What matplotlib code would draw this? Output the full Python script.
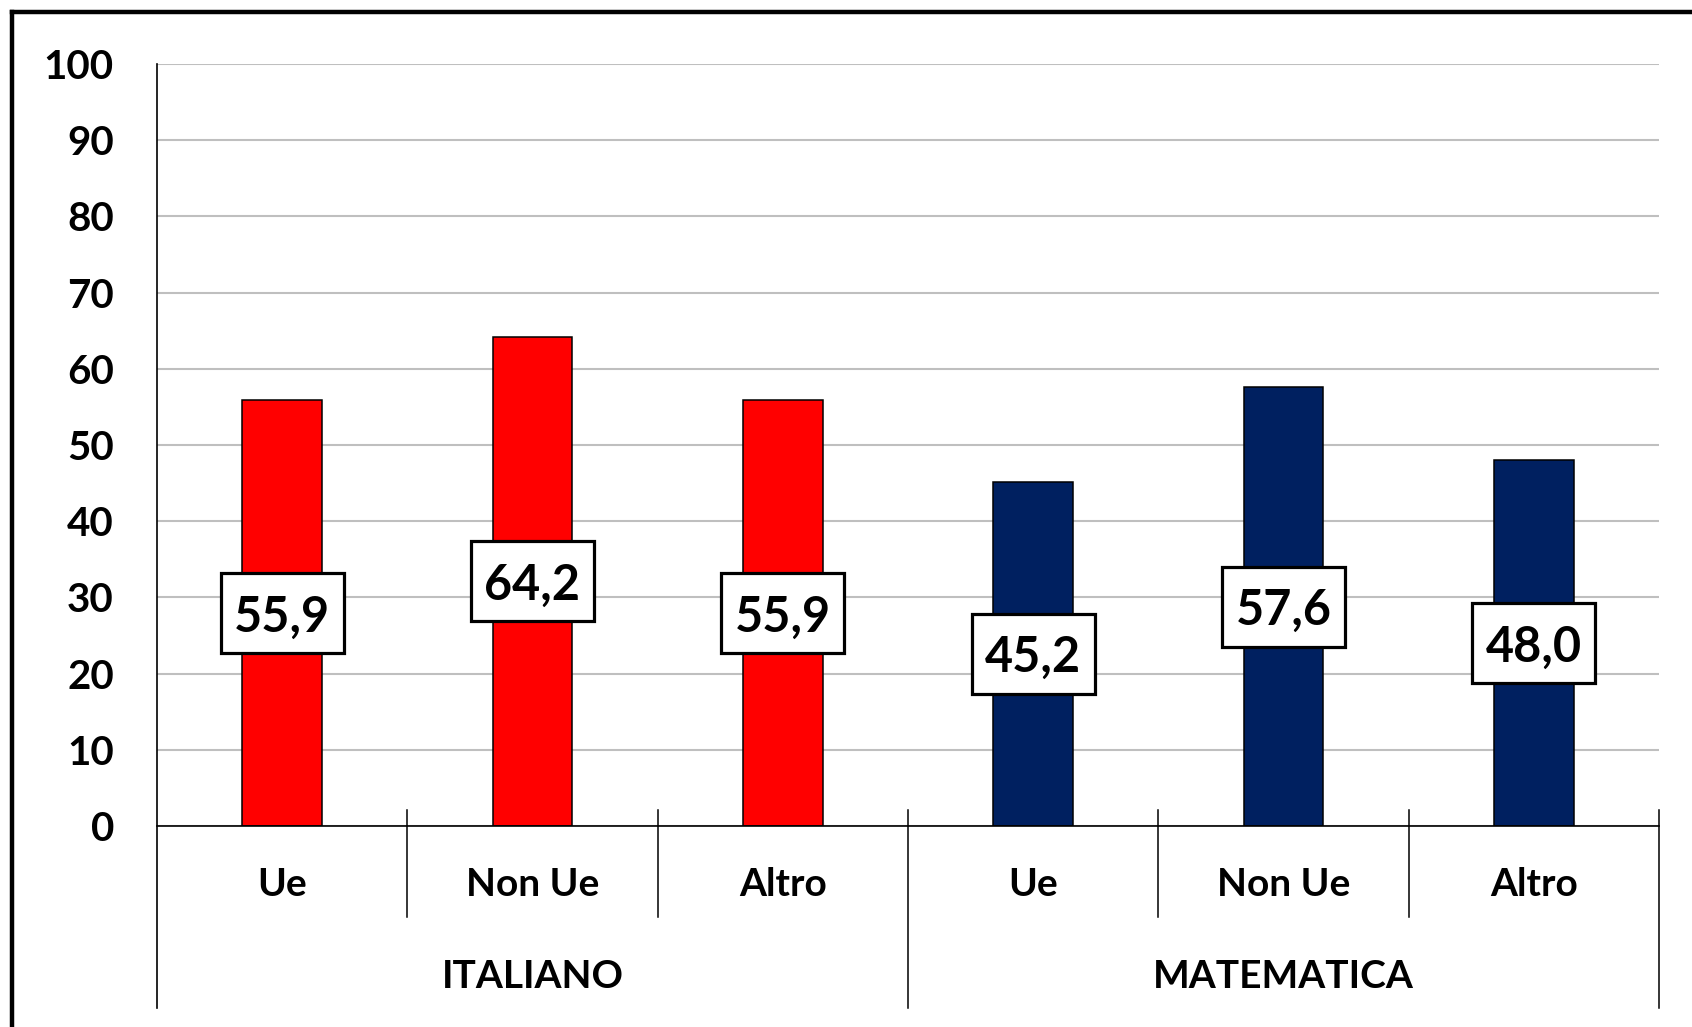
import matplotlib
matplotlib.use("Agg")
import matplotlib.pyplot as plt
from matplotlib.lines import Line2D
from matplotlib.patches import Rectangle
import matplotlib.transforms as mtransforms

plt.rcParams['font.family'] = ['Lato', 'DejaVu Sans']

# ---- data ----
subjects = ["ITALIANO", "MATEMATICA"]
groups = ["Ue", "Non Ue", "Altro"]
italiano = [55.9, 64.2, 55.9]
matematica = [45.2, 57.6, 48.0]
yticks = [0, 10, 20, 30, 40, 50, 60, 70, 80, 90, 100]
colors = {"ITALIANO": "#FF0000", "MATEMATICA": "#002060"}

values = italiano + matematica
bar_colors = [colors["ITALIANO"]] * 3 + [colors["MATEMATICA"]] * 3
labels = groups + groups
xpos = list(range(len(values)))

W, H = 1692, 1027
fig = plt.figure(figsize=(W / 100, H / 100), dpi=100)
fig.patch.set_facecolor("white")

ax_l, ax_r, ax_t, ax_b = 157, 1659, 64, 826
ax = fig.add_axes([ax_l / W, (H - ax_b) / H, (ax_r - ax_l) / W, (ax_b - ax_t) / H])
ax_h_px = ax_b - ax_t
ax_w_px = ax_r - ax_l

ax.set_xlim(-0.5, len(values) - 0.5)
ax.set_ylim(0, 100)

# gridlines
ax.set_yticks(yticks)
ax.yaxis.grid(True, color="#BFBFBF", linewidth=1.5, zorder=0)
ax.set_axisbelow(True)
ax.tick_params(axis="y", length=0, pad=31, labelsize=29)
for t in ax.get_yticklabels():
    t.set_fontweight("bold")
ax.set_xticks([])

for s in ["top", "right"]:
    ax.spines[s].set_visible(False)
ax.spines["left"].set_visible(False)
ax.spines["bottom"].set_color("black")
ax.spines["bottom"].set_linewidth(1.2)
ax.spines["bottom"].set_zorder(5)

# bars
ax.bar(xpos, values, width=0.317, color=bar_colors, edgecolor="black",
       linewidth=1.1, zorder=3)

# value labels in boxes
px_per_x = ax_w_px / len(values)
px_per_y = ax_h_px / 100
bw = 123 / px_per_x
bh = 80 / px_per_y
for x, v in zip(xpos, values):
    ax.add_patch(Rectangle((x - bw / 2, v / 2 - bh / 2), bw, bh, facecolor="white",
                           edgecolor="black", linewidth=2.3, zorder=6))
    ax.text(x, v / 2, f"{v:.1f}".replace(".", ","), ha="center", va="center_baseline",
            fontsize=35, fontweight="bold", zorder=7, color="black")

# category axis separators
trans = mtransforms.blended_transform_factory(ax.transData, ax.transAxes)
up = 16 / ax_h_px
short = -91 / ax_h_px
long_ = -182 / ax_h_px
# left axis line full height
ax.add_line(Line2D([-0.5, -0.5], [1, long_], transform=trans, color="black",
                   linewidth=1.2, clip_on=False, zorder=5))
for b in [0.5, 1.5, 3.5, 4.5]:
    ax.add_line(Line2D([b, b], [up, short], transform=trans, color="black",
                       linewidth=1.1, clip_on=False, zorder=5))
for b in [2.5, 5.5]:
    ax.add_line(Line2D([b, b], [up, long_], transform=trans, color="black",
                       linewidth=1.1, clip_on=False, zorder=5))

for x, lab in zip(xpos, labels):
    ax.text(x, -59 / ax_h_px, lab, transform=trans, ha="center", va="center",
            fontsize=28, fontweight="bold", clip_on=False)
for i, subj in enumerate(subjects):
    ax.text(1 + 3 * i, -150 / ax_h_px, subj, transform=trans, ha="center", va="center",
            fontsize=28, fontweight="bold", clip_on=False)

# outer frame (left and top visible)
fig.add_artist(Line2D([12 / W, 12 / W], [0, (H - 11.5) / H], transform=fig.transFigure,
                      color="black", linewidth=3.2, solid_capstyle="projecting"))
fig.add_artist(Line2D([12 / W, 1], [(H - 11.5) / H, (H - 11.5) / H], transform=fig.transFigure,
                      color="black", linewidth=3.2, solid_capstyle="projecting"))

fig.savefig("out.png", dpi=100, facecolor="white")
